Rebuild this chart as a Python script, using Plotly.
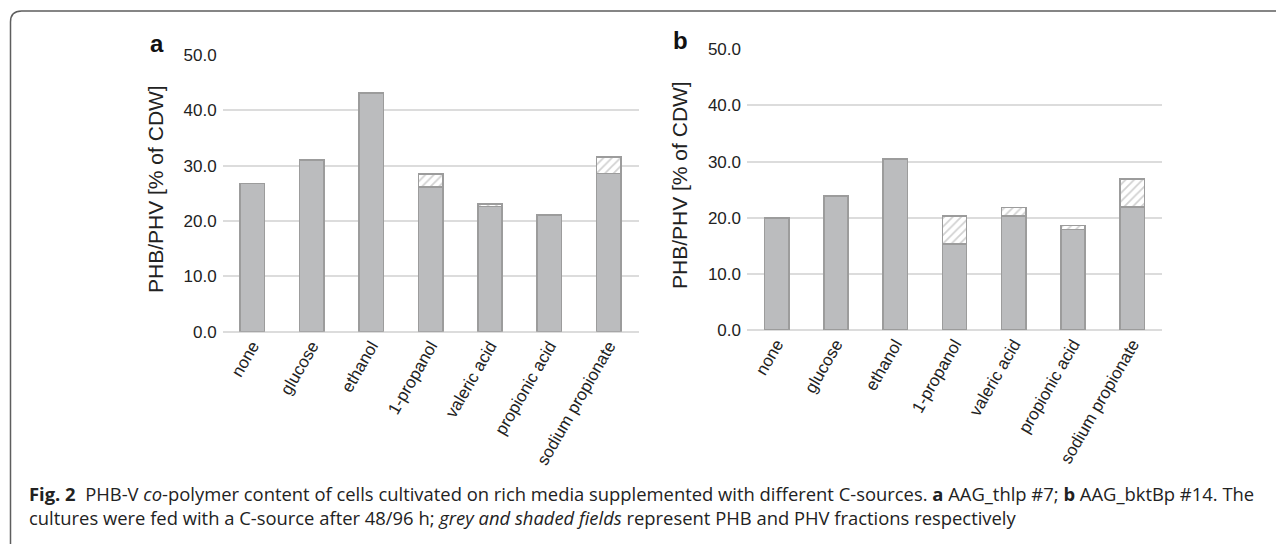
import plotly.graph_objects as go

categories = ["none", "glucose", "ethanol", "1-propanol", "valeric acid", "propionic acid", "sodium propionate"]
phb_a = [26.8, 31.0, 43.1, 26.2, 22.6, 21.0, 28.6]
phv_a = [0.0, 0.0, 0.0, 2.3, 0.5, 0.2, 3.0]
phb_b = [19.9, 23.9, 30.5, 15.3, 20.3, 17.9, 21.9]
phv_b = [0.0, 0.0, 0.0, 5.0, 1.5, 0.7, 5.0]
yticks = [0, 10, 20, 30, 40, 50]
ytitle = "PHB/PHV [% of CDW]"

GREY = "#bbbcbe"
EDGE = "#9c9c9c"
FONT = "Liberation Sans, Arial, sans-serif"

fig = go.Figure()
for phb, phv, xa, ya in [(phb_a, phv_a, "x", "y"), (phb_b, phv_b, "x2", "y2")]:
    fig.add_trace(go.Bar(x=categories, y=phb, xaxis=xa, yaxis=ya, width=0.41,
                         marker=dict(color=GREY, line=dict(color=EDGE, width=1.6)),
                         showlegend=False, hoverinfo="y"))
    fig.add_trace(go.Bar(x=categories, y=phv, xaxis=xa, yaxis=ya, width=0.41,
                         marker=dict(color="white", line=dict(color=EDGE, width=1.6),
                                     pattern=dict(shape="/", fgcolor="#a4a4a4", bgcolor="white",
                                                  size=6, solidity=0.3)),
                         showlegend=False, hoverinfo="y"))

# the page body has an 8px margin; the figure is sized to the rest of the window
OFF = 8
W, H = 1284 - OFF, 544 - OFF
fx = lambda v: (v - OFF) / W
fy = lambda v: (H - (v - OFF)) / H

xcommon = dict(tickangle=-60, tickfont=dict(family=FONT, size=17, color="#222"),
               showgrid=False, showline=False, ticks="", fixedrange=True, automargin=False)
ycommon = dict(range=[0, 50], tickvals=yticks, tickformat=".1f",
               tickfont=dict(family=FONT, size=17, color="#222"),
               showgrid=True, gridcolor="#dcdcdc", gridwidth=1.5, zeroline=True,
               zerolinecolor="#dcdcdc", zerolinewidth=1.5, showline=False, ticks="",
               ticklabelstandoff=5, automargin=False, fixedrange=True)

fig.update_layout(
    width=W, height=H, margin=dict(l=0, r=0, t=0, b=0, autoexpand=False),
    paper_bgcolor="white", plot_bgcolor="white", barmode="stack",
    xaxis=dict(domain=[fx(222.7), fx(638.5)], anchor="y", **xcommon),
    yaxis=dict(domain=[fy(331.7), fy(55)], anchor="x", **ycommon),
    xaxis2=dict(domain=[fx(747), fx(1162)], anchor="y2", **xcommon),
    yaxis2=dict(domain=[fy(330), fy(49.3)], anchor="x2", **ycommon),
)

# outer frame (top-left rounded corner, running off right and bottom edges)
fig.add_shape(type="path", xref="paper", yref="paper",
              path=(f"M {fx(10.5)},{fy(600)} L {fx(10.5)},{fy(22)} "
                    f"Q {fx(10.5)},{fy(11)} {fx(21.5)},{fy(11)} L {fx(1330)},{fy(11)}"),
              line=dict(color="#5e5e5e", width=1.5))

for txt, x, y in [("<b>a</b>", 157, 43), ("<b>b</b>", 680, 41)]:
    fig.add_annotation(text=txt, x=fx(x), y=fy(y), xref="paper", yref="paper",
                       xanchor="center", yanchor="middle", showarrow=False,
                       font=dict(family=FONT, size=24, color="#111"))
for x, y in [(155, 189), (679, 185)]:
    fig.add_annotation(text=ytitle, x=fx(x), y=fy(y), xref="paper", yref="paper",
                       xanchor="center", yanchor="middle", textangle=-90, showarrow=False,
                       font=dict(family=FONT, size=21, color="#222"))

CAP = "Open Sans, sans-serif"
fig.add_annotation(
    text="<b>Fig. 2</b>  PHB-V <i>co</i>-polymer content of cells cultivated on rich media supplemented with different C-sources. "
         "<b>a</b> AAG_thlp #7; <b>b</b> AAG_bktBp #14. The<br>"
         "cultures were fed with a C-source after 48/96 h; <i>grey and shaded fields</i> represent PHB and PHV fractions respectively",
    x=fx(27), y=fy(505), xref="paper", yref="paper", xanchor="left", yanchor="middle",
    align="left", showarrow=False, font=dict(family=CAP, size=18.4, color="#222"))

fig.write_html("out.html")
